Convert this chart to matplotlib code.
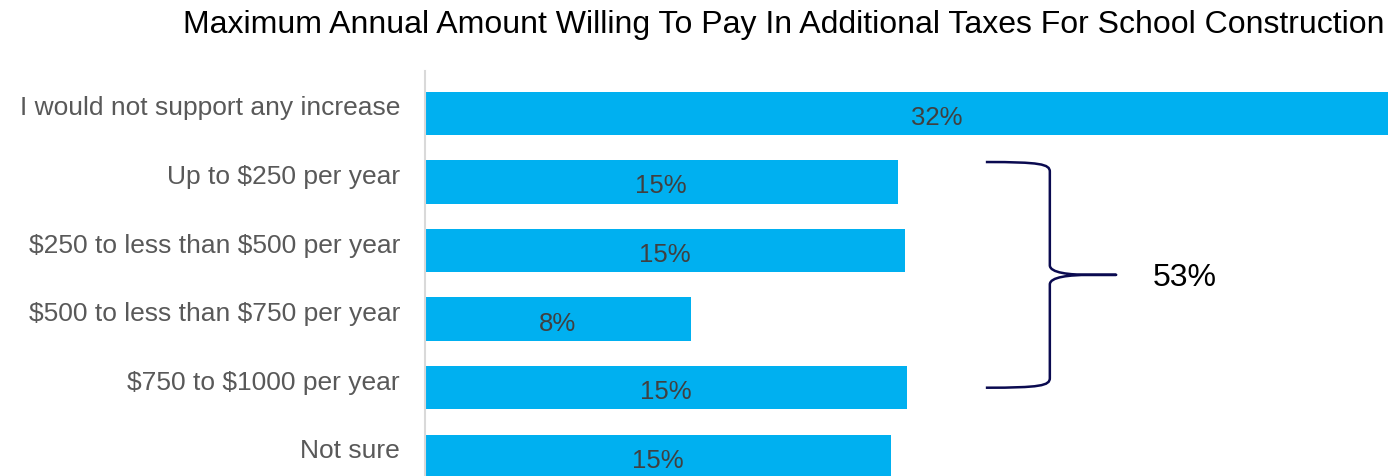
import matplotlib
matplotlib.use("Agg")
import matplotlib.pyplot as plt
from matplotlib.path import Path
from matplotlib.patches import PathPatch
from matplotlib.transforms import offset_copy

plt.rcParams['font.family'] = ['Liberation Sans', 'DejaVu Sans']
plt.rcParams['text.parse_math'] = False

# datos
categorias = ["I would not support any increase",
              "Up to $250 per year",
              "$250 to less than $500 per year",
              "$500 to less than $750 per year",
              "$750 to $1000 per year",
              "Not sure"]
valores = [32.0, 14.77, 15.0, 8.3, 15.07, 14.58]
etiquetas = ["32%", "15%", "15%", "8%", "15%", "15%"]
titulo = "Maximum Annual Amount Willing To Pay In Additional Taxes For School Construction"
total_llave = "53%"
llave_desde, llave_hasta = 1, 4   # categorias agrupadas

azul = "#00B0F0"

fig = plt.figure(figsize=(13.88, 4.77), dpi=100)
ax = fig.add_axes([425/1388, 0, 1 - 425/1388, 405/477])

y = list(range(len(categorias)))
ax.barh(y, valores, height=0.633, color=azul)
ax.set_xlim(0, 30.1)
ax.set_ylim(5.287, -0.617)

for yi, v, et in zip(y, valores, etiquetas):
    ax.text(v/2, yi + 0.05, et, ha="center", va="center", fontsize=18.5, color="#404040")

ax.set_yticks(y)
ax.set_yticklabels(categorias, fontsize=19, color="#595959")
ax.tick_params(axis="y", length=0, pad=18)
# etiquetas un poco por encima del centro de la barra
for lab in ax.get_yticklabels():
    lab.set_transform(offset_copy(lab.get_transform(), fig=fig, y=6, units="points"))
ax.set_xticks([])
for lado in ["top", "right", "bottom"]:
    ax.spines[lado].set_visible(False)
ax.spines["left"].set_color("#D9D9D9")
ax.spines["left"].set_linewidth(1.5)

# llave
y0 = llave_desde - 0.29
y1 = llave_hasta
ym = (y0 + y1) / 2
x0, xv, xp = 17.53, 19.53, 21.6
c = 0.14
verts = [(x0, y0), (xv - 0.3, y0), (xv, y0 + 0.03), (xv, y0 + c),
         (xv, ym - c),
         (xv, ym - 0.03), (xv + 0.6, ym), (xp - 0.8, ym),
         (xp, ym),
         (xp - 0.8, ym),
         (xv + 0.6, ym), (xv, ym + 0.03), (xv, ym + c),
         (xv, y1 - c),
         (xv, y1 - 0.03), (xv - 0.3, y1), (x0, y1)]
codes = [Path.MOVETO, Path.CURVE4, Path.CURVE4, Path.CURVE4,
         Path.LINETO,
         Path.CURVE4, Path.CURVE4, Path.CURVE4,
         Path.LINETO,
         Path.LINETO,
         Path.CURVE4, Path.CURVE4, Path.CURVE4,
         Path.LINETO,
         Path.CURVE4, Path.CURVE4, Path.CURVE4]
ax.add_patch(PathPatch(Path(verts, codes), fill=False, edgecolor="#0A0A50",
                       linewidth=1.8, clip_on=False, joinstyle="round"))
ax.text(xp + 1.15, ym + 0.03, total_llave, ha="left", va="center", fontsize=23, color="black")

fig.text(784/1388, 1 - 24.5/477, titulo, ha="center", va="center", fontsize=23, color="black")

fig.savefig("out.png", dpi=100)
